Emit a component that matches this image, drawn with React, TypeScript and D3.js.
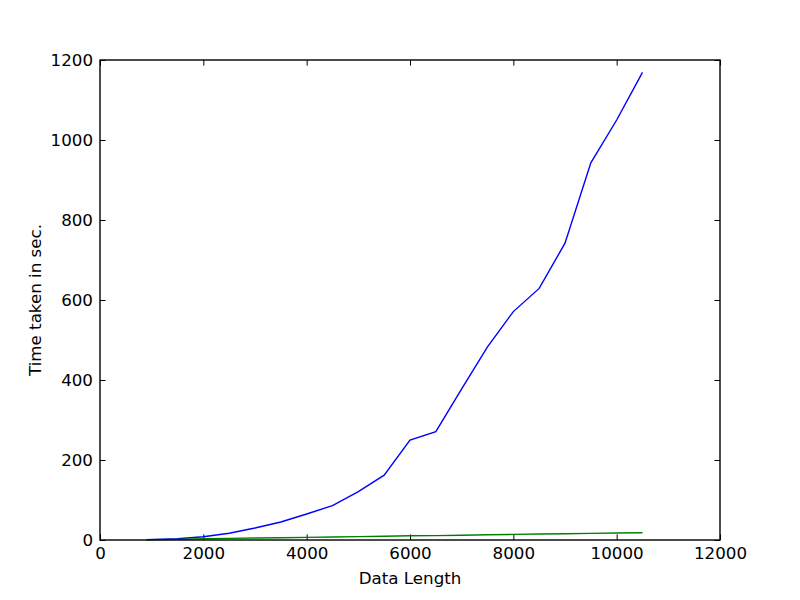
import { useRef, useEffect } from "react";
import * as d3 from "d3";

// data lengths and timings
const dataLength = [900, 1500, 2000, 2500, 3000, 3500, 4000, 4500, 5000, 5500, 6000, 6500, 7000, 7500, 8000, 8500, 9000, 9500, 10000, 10500];
const slowTimes = [1, 3, 8, 17, 30, 45, 65, 86, 121, 162, 250, 271, 378, 483, 571, 629, 742, 943, 1050, 1169];
const fastTimes = [0.5, 1.5, 3, 4, 5, 5.5, 6.5, 7.5, 8.5, 9.5, 10.5, 11, 12, 13, 14, 15, 15.5, 16.5, 17.5, 18];

const xTicks = [0, 2000, 4000, 6000, 8000, 10000, 12000];
const yTicks = [0, 200, 400, 600, 800, 1000, 1200];

const W = 800, H = 600;
const margin = { top: 60, right: 80, bottom: 60, left: 100 };
const innerW = W - margin.left - margin.right;
const innerH = H - margin.top - margin.bottom;
const FONT = "'DejaVu Sans', sans-serif";
const TICK = 5.6;

export default function App() {
  const ref = useRef<SVGSVGElement | null>(null);

  useEffect(() => {
    const svg = d3.select(ref.current);
    svg.selectAll("*").remove();

    const x = d3.scaleLinear().domain([0, 12000]).range([0, innerW]);
    const y = d3.scaleLinear().domain([0, 1200]).range([innerH, 0]);

    svg.append("rect").attr("width", W).attr("height", H).attr("fill", "#fff");

    const g = svg.append("g").attr("transform", `translate(${margin.left},${margin.top})`);

    const styleAxis = (sel: any, showText: boolean) => {
      sel.select(".domain").remove();
      sel.selectAll("line").attr("stroke", "#000").attr("stroke-width", 1);
      sel.selectAll("text")
        .attr("fill", "#000")
        .style("font-family", FONT)
        .style("font-size", "16.7px")
        .style("display", showText ? null : "none");
    };

    // bottom / left with labels, top / right ticks only
    g.append("g")
      .attr("transform", `translate(0,${innerH})`)
      .call(d3.axisBottom(x).tickValues(xTicks).tickFormat(d3.format("d")).tickSizeInner(-TICK).tickSizeOuter(0).tickPadding(7))
      .call((s) => styleAxis(s, true));
    g.append("g")
      .call(d3.axisLeft(y).tickValues(yTicks).tickFormat(d3.format("d")).tickSizeInner(-TICK).tickSizeOuter(0).tickPadding(7))
      .call((s) => styleAxis(s, true));
    g.append("g")
      .call(d3.axisTop(x).tickValues(xTicks).tickSizeInner(-TICK).tickSizeOuter(0))
      .call((s) => styleAxis(s, false));
    g.append("g")
      .attr("transform", `translate(${innerW},0)`)
      .call(d3.axisRight(y).tickValues(yTicks).tickSizeInner(-TICK).tickSizeOuter(0))
      .call((s) => styleAxis(s, false));

    const line = d3.line<number>()
      .x((_, i) => x(dataLength[i]))
      .y((d) => y(d));

    g.append("path")
      .datum(slowTimes)
      .attr("fill", "none")
      .attr("stroke", "#0000ff")
      .attr("stroke-width", 1.4)
      .attr("d", line);

    g.append("path")
      .datum(fastTimes)
      .attr("fill", "none")
      .attr("stroke", "#008000")
      .attr("stroke-width", 1.4)
      .attr("d", line);

    // frame
    g.append("rect")
      .attr("width", innerW)
      .attr("height", innerH)
      .attr("fill", "none")
      .attr("stroke", "#000")
      .attr("stroke-width", 1.4);

    svg.append("text")
      .attr("x", margin.left + innerW / 2)
      .attr("y", 584)
      .attr("text-anchor", "middle")
      .style("font-family", FONT)
      .style("font-size", "16.7px")
      .text("Data Length");

    svg.append("text")
      .attr("transform", `translate(41,${margin.top + innerH / 2}) rotate(-90)`)
      .attr("text-anchor", "middle")
      .style("font-family", FONT)
      .style("font-size", "16.7px")
      .text("Time taken in sec.");
  }, []);

  return (
    <div style={{ position: "absolute", left: 0, top: 0 }}>
      <svg ref={ref} width={W} height={H} style={{ display: "block" }} />
    </div>
  );
}
